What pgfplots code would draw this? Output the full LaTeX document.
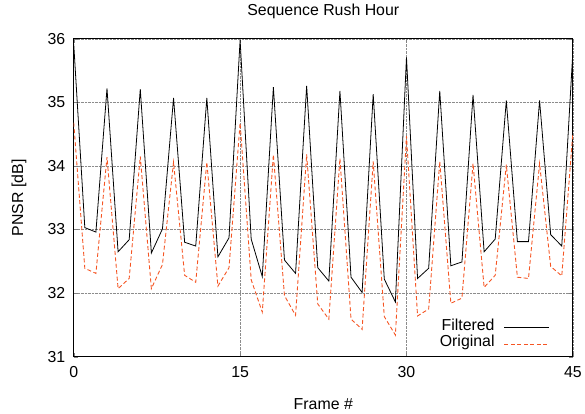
\documentclass[border=0pt]{standalone}
\usepackage{fontspec}
\setmainfont{Liberation Sans}
\usepackage{pgfplots}
\pgfplotsset{compat=1.18}
\definecolor{orig}{RGB}{245,85,35}

\begin{document}
\begin{tikzpicture}
\begin{axis}[
    name=ax,
    scale only axis, width=501bp, height=319bp,
    xmin=0, xmax=45, ymin=31, ymax=36,
    xtick={0,15,30,45}, ytick={31,32,33,34,35,36},
    /pgf/number format/assume math mode=true,
    ticklabel style={font=\fontsize{16}{18}\selectfont},
    xticklabel style={yshift=-6bp},
    yticklabel style={xshift=-5bp},
    every axis x label/.style={at={(rel axis cs:0.5,0)}, yshift=-48bp, anchor=center,
        font=\fontsize{16}{18}\selectfont},
    every axis y label/.style={at={(rel axis cs:0,0.5)}, xshift=-55bp, rotate=90, anchor=center,
        font=\fontsize{16}{18}\selectfont},
    title style={at={(rel axis cs:0.5,1)}, yshift=22bp, anchor=center,
        font=\fontsize{16}{18}\selectfont},
    title={Sequence Rush Hour},
    xlabel={Frame \#}, ylabel={PNSR [dB]},
    grid=major, grid style={densely dotted, gray!90, line width=0.6pt},
    axis line style={line width=1pt},
    tick align=inside, major tick length=4pt,
    legend style={at={(rel axis cs:1,0)}, anchor=south east, xshift=-20bp, yshift=3bp,
        draw=none, fill=none, font=\fontsize{16}{17}\selectfont, row sep=0pt,
        column sep=9bp,
        nodes={inner sep=0.5bp, text height=12bp, text depth=4bp}},
    legend cell align=right, legend plot pos=right,
    legend image code/.code={\draw[#1] (0bp,-1bp) -- (45bp,-1bp);},
]
\addplot[black, line width=0.8pt] coordinates {
(0,35.92) (1,33.03) (2,32.96) (3,35.22) (4,32.65) (5,32.84) (6,35.21) (7,32.63)
(8,33.01) (9,35.07) (10,32.80) (11,32.74) (12,35.07) (13,32.57) (14,32.87)
(15,35.98) (16,32.85) (17,32.26) (18,35.24) (19,32.52) (20,32.31) (21,35.26)
(22,32.40) (23,32.19) (24,35.18) (25,32.25) (26,32.01) (27,35.13) (28,32.22)
(29,31.86) (30,35.71) (31,32.23) (32,32.39) (33,35.18) (34,32.43) (35,32.49)
(36,35.12) (37,32.65) (38,32.85) (39,35.03) (40,32.81) (41,32.81) (42,35.03)
(43,32.92) (44,32.74) (45,35.80)
};
\addplot[orig, dash pattern=on 4bp off 2.5bp, line width=0.9pt] coordinates {
(0,34.68) (1,32.39) (2,32.31) (3,34.14) (4,32.07) (5,32.23) (6,34.15) (7,32.07)
(8,32.45) (9,34.06) (10,32.28) (11,32.17) (12,34.06) (13,32.11) (14,32.40)
(15,34.68) (16,32.21) (17,31.70) (18,34.18) (19,31.96) (20,31.65) (21,34.18)
(22,31.83) (23,31.59) (24,34.12) (25,31.59) (26,31.43) (27,34.07) (28,31.63)
(29,31.34) (30,34.47) (31,31.64) (32,31.75) (33,34.07) (34,31.84) (35,31.92)
(36,34.04) (37,32.09) (38,32.28) (39,34.02) (40,32.25) (41,32.23) (42,34.04)
(43,32.42) (44,32.27) (45,34.52)
};
\legend{Filtered, Original}
\end{axis}
\path (ax.south west) ++(-74bp,-57bp);
\path (ax.north east) ++(10bp,39bp);
\end{tikzpicture}
\end{document}
